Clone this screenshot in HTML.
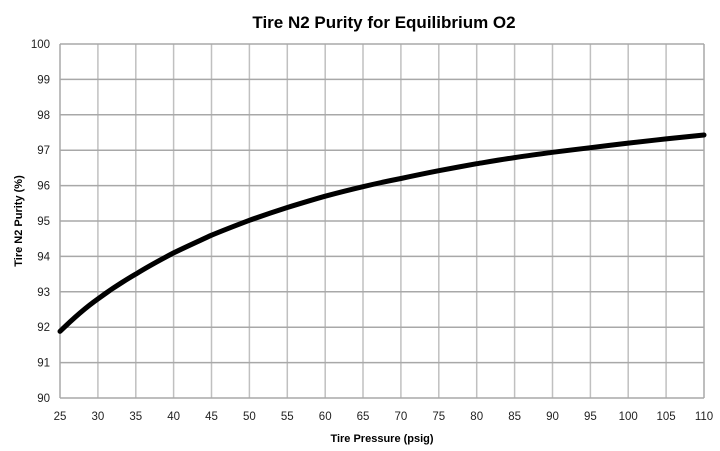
<!DOCTYPE html>
<html><head><meta charset="utf-8"><style>
html,body{margin:0;padding:0;background:#fff;}
svg{display:block;font-family:"Liberation Sans",sans-serif;}
</style></head><body>
<svg width="720" height="451" viewBox="0 0 720 451">
<text x="384" y="28" text-anchor="middle" font-size="17" font-weight="bold" fill="#000">Tire N2 Purity for Equilibrium O2</text>
<g stroke="#c0c0c0" stroke-width="1.5">
<line x1="97.9" y1="44" x2="97.9" y2="398"/><line x1="135.8" y1="44" x2="135.8" y2="398"/><line x1="173.6" y1="44" x2="173.6" y2="398"/><line x1="211.5" y1="44" x2="211.5" y2="398"/><line x1="249.4" y1="44" x2="249.4" y2="398"/><line x1="287.3" y1="44" x2="287.3" y2="398"/><line x1="325.2" y1="44" x2="325.2" y2="398"/><line x1="363" y1="44" x2="363" y2="398"/><line x1="400.9" y1="44" x2="400.9" y2="398"/><line x1="438.8" y1="44" x2="438.8" y2="398"/><line x1="476.7" y1="44" x2="476.7" y2="398"/><line x1="514.6" y1="44" x2="514.6" y2="398"/><line x1="552.5" y1="44" x2="552.5" y2="398"/><line x1="590.4" y1="44" x2="590.4" y2="398"/><line x1="628.2" y1="44" x2="628.2" y2="398"/><line x1="666.1" y1="44" x2="666.1" y2="398"/>
</g>
<g stroke="#a8a8a8" stroke-width="1.5">
<line x1="60" y1="44" x2="704" y2="44"/><line x1="60" y1="79.4" x2="704" y2="79.4"/><line x1="60" y1="114.8" x2="704" y2="114.8"/><line x1="60" y1="150.2" x2="704" y2="150.2"/><line x1="60" y1="185.6" x2="704" y2="185.6"/><line x1="60" y1="221" x2="704" y2="221"/><line x1="60" y1="256.4" x2="704" y2="256.4"/><line x1="60" y1="291.8" x2="704" y2="291.8"/><line x1="60" y1="327.2" x2="704" y2="327.2"/><line x1="60" y1="362.6" x2="704" y2="362.6"/><line x1="60" y1="398" x2="704" y2="398"/>
<line x1="60" y1="44" x2="60" y2="398"/><line x1="704" y1="44" x2="704" y2="398"/>
</g>
<g font-size="11.5" fill="#222" text-anchor="end">
<text x="50" y="48">100</text><text x="50" y="83.4">99</text><text x="50" y="118.8">98</text><text x="50" y="154.2">97</text><text x="50" y="189.6">96</text><text x="50" y="225">95</text><text x="50" y="260.4">94</text><text x="50" y="295.8">93</text><text x="50" y="331.2">92</text><text x="50" y="366.6">91</text><text x="50" y="402">90</text>
</g>
<g font-size="11.5" fill="#222" text-anchor="middle">
<text x="60" y="420">25</text><text x="97.9" y="420">30</text><text x="135.8" y="420">35</text><text x="173.6" y="420">40</text><text x="211.5" y="420">45</text><text x="249.4" y="420">50</text><text x="287.3" y="420">55</text><text x="325.2" y="420">60</text><text x="363" y="420">65</text><text x="400.9" y="420">70</text><text x="438.8" y="420">75</text><text x="476.7" y="420">80</text><text x="514.6" y="420">85</text><text x="552.5" y="420">90</text><text x="590.4" y="420">95</text><text x="628.2" y="420">100</text><text x="666.1" y="420">105</text><text x="704" y="420">110</text>
</g>
<text x="382" y="442" text-anchor="middle" font-size="11" font-weight="bold" fill="#000">Tire Pressure (psig)</text>
<text transform="translate(22,221) rotate(-90)" text-anchor="middle" font-size="11" font-weight="bold" fill="#000">Tire N2 Purity (%)</text>
<path d="M60,331.4 C72.6,319 85,308 97.9,298.9 C110,290 123,281.5 135.8,274.1 C148,266.5 161,259.5 173.6,252.9 C186,246.8 199,241 211.5,235.2 C224,230 237,225 249.4,220.3 C262,215.8 274.5,211.6 287.3,207.5 C300,203.6 312.5,199.8 325.2,196.2 C338,192.8 350.5,189.6 363,186.7 C375.5,183.7 388,181 400.9,178.5 C413.5,175.8 426,173.2 438.8,170.7 C451.5,168.3 464,166 476.7,163.7 C489.5,161.6 502,159.5 514.6,157.6 C527.2,155.7 540,154 552.5,152.3 C565,150.7 577.8,149.2 590.4,147.7 C603,146.2 615.6,144.6 628.2,143.1 C641,141.7 653.5,140.3 666.1,138.9 C678.8,137.6 691.4,136.3 704,135" fill="none" stroke="#000" stroke-width="5" stroke-linecap="round"/>
</svg>
</body></html>
